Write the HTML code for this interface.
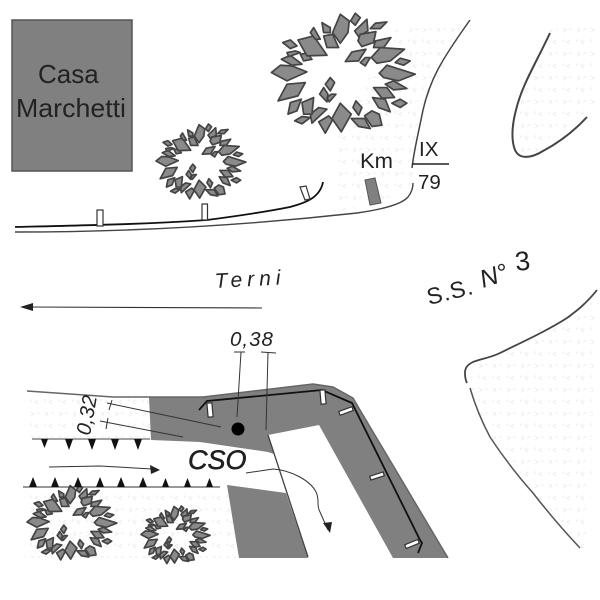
<!DOCTYPE html>
<html><head><meta charset="utf-8"><style>
html,body{margin:0;padding:0;background:#fff}
svg{display:block;filter:blur(.3px)}
text{font-family:"Liberation Sans",sans-serif;fill:#222}
.l{fill:#8a8a8a;stroke:#444;stroke-width:1.7;vector-effect:non-scaling-stroke;stroke-linejoin:round}
.p{fill:#fff;stroke:#333;stroke-width:1.2}
</style></head><body>
<svg width="600" height="600" viewBox="0 0 600 600" xmlns="http://www.w3.org/2000/svg">
<defs>
<pattern id="st" width="14" height="24" patternUnits="userSpaceOnUse">
<path d="M3 4l3 2-3 2M10 16l-3 2 3 2M12 5h-3M3 18v-3" fill="none" stroke="#ececec" stroke-width="1"/>
</pattern>
<g id="tree">
<polygon class="l" points="245,45 272,65 268,100 245,132 222,100"/>
<polygon class="l" points="290,42 305,55 290,78 276,65"/>
<polygon class="l" points="325,60 328,95 300,112 288,95"/>
<polygon class="l" points="385,68 365,88 335,88 350,72"/>
<polygon class="l" points="352,97 345,130 310,142 298,125 305,105"/>
<polygon class="l" points="397,115 375,145 345,145 350,125"/>
<polygon class="l" points="438,150 395,185 355,192 338,175 365,145"/>
<polygon class="l" points="455,185 435,198 410,190 425,177"/>
<polygon class="l" points="470,225 420,245 375,235 362,222 385,198"/>
<polygon class="l" points="445,268 405,272 380,255 405,245"/>
<polygon class="l" points="408,295 370,297 345,265 385,265"/>
<polygon class="l" points="445,312 425,325 400,312 425,300"/>
<polygon class="l" points="395,338 360,325 342,295 380,300"/>
<polygon class="l" points="322,150 300,185 260,187 280,158"/>
<polygon class="l" points="335,175 320,200 305,190 320,175"/>
<polygon class="l" points="228,250 215,275 200,255 215,235"/>
<polygon class="l" points="195,265 183,285 205,308 208,285"/>
<polygon class="l" points="232,285 212,308 205,295 218,285"/>
<polygon class="l" points="310,325 300,348 283,325 292,305"/>
<polygon class="l" points="370,378 340,382 318,350 340,335 362,345"/>
<polygon class="l" points="335,388 300,382 278,358 318,358"/>
<polygon class="l" points="278,345 248,398 220,358 245,312"/>
<polygon class="l" points="222,362 200,402 180,368 210,350"/>
<polygon class="l" points="205,330 160,372 155,345 180,325"/>
<polygon class="l" points="155,355 130,374 108,365 130,352"/>
<polygon class="l" points="165,295 160,345 135,345 130,310"/>
<polygon class="l" points="128,300 115,335 88,345 95,310"/>
<polygon class="l" points="140,250 118,290 58,305 85,255"/>
<polygon class="l" points="145,218 85,245 38,220 65,198 100,200"/>
<polygon class="l" points="130,195 100,198 68,180 95,168"/>
<polygon class="l" points="160,180 135,185 125,165 145,162"/>
<polygon class="l" points="125,160 90,172 85,160 110,155"/>
<polygon class="l" points="118,122 165,110 205,168 145,170"/>
<polygon class="l" points="115,140 95,148 72,130 95,122"/>
<polygon class="l" points="165,85 185,120 170,120 155,100"/>
<polygon class="l" points="190,70 215,85 215,100 195,100"/>
<polygon class="l" points="195,110 222,105 240,145 205,145"/>
</g>
</defs>

<!-- stipple -->
<path d="M335 140L395 30 465 25 428 100 412 190 340 212Z" fill="url(#st)"/>
<path d="M550 30L595 22 595 105 528 158 514 150 514 110Z" fill="url(#st)"/>
<path d="M595 295L500 353 473 364 470 390 490 437 533 493 580 548 590 548Z" fill="url(#st)"/>
<path d="M28 395L150 398 150 438 28 438Z" fill="url(#st)"/>
<path d="M25 490L228 490 240 558 25 558Z" fill="url(#st)"/>

<!-- Casa -->
<rect x="12" y="20" width="120" height="151" fill="#808080" stroke="#555" stroke-width="1.5"/>
<text x="38" y="83" font-size="26">Casa</text>
<text x="16" y="117" font-size="26" textLength="110" lengthAdjust="spacingAndGlyphs">Marchetti</text>

<!-- trees -->
<use href="#tree" transform="translate(258.7,-.7) scale(.333)"/>
<use href="#tree" transform="translate(148.1,115.3) scale(.208)"/>
<use href="#tree" transform="translate(19.1,476.3) scale(.208)"/>
<use href="#tree" transform="translate(134.9,499.3) scale(.16)"/>

<!-- top road -->
<path d="M15 232C120 232 240 226 357 213C385 209 402 204 408 197C412 192 413 188 413 183" fill="none" stroke="#444" stroke-width="1.4"/>
<path d="M412 168C414 150 417 140 423 110C430 80 440 62 470 20" fill="none" stroke="#444" stroke-width="1.5"/>
<path d="M15 227C100 225 150 224 207 220C245 215 270 211 290 207C305 203 320 198 323 182" fill="none" stroke="#111" stroke-width="1.8"/>
<rect class="p" x="97" y="210" width="6" height="16"/>
<rect class="p" x="202" y="204" width="5.5" height="16"/>
<polygon class="p" points="300,187 306,186 310,199 305,200"/>
<polygon points="365,180 375,178 381,203 370,205" fill="#808080" stroke="#555"/>
<text x="360" y="168" font-size="21" textLength="33" lengthAdjust="spacingAndGlyphs">Km</text>
<text x="419" y="156" font-size="20.5">IX</text>
<text x="418" y="189" font-size="20.5">79</text>
<path d="M412 164H449" stroke="#222" stroke-width="1.5"/>

<!-- right curve -->
<path d="M550 33C535 65 522 85 516 110C512 125 511 140 515 150C519 159 530 159 543 151C560 142 575 130 587 117" fill="none" stroke="#444" stroke-width="2"/>

<!-- lower right curve -->
<path d="M597 290C585 305 575 312 567 318C545 332 520 343 500 353C490 358 480 359 473 362C467 365 465 368 465 373C465 378 466 381 467 383" fill="none" stroke="#444" stroke-width="1.8"/>
<path d="M470 388C475 405 482 422 490 437C505 460 518 476 533 493C550 515 565 532 580 548" fill="none" stroke="#555" stroke-width="1.5"/>

<!-- labels -->
<text x="215" y="288" font-size="21" font-style="italic" letter-spacing="5" transform="rotate(-3 215 288)">Terni</text>
<text x="429" y="305" font-size="23" letter-spacing="1" transform="rotate(-14 429 305)">S.S.</text>
<text x="483" y="288" font-size="25" font-style="italic" transform="rotate(-18 483 288)">N°</text>
<text x="516" y="271" font-size="27" transform="rotate(-6 516 271)">3</text>
<path d="M262 308L30 307" stroke="#333" stroke-width="1.1"/>
<polygon points="20,307 33,303 33,311" fill="#222"/>

<!-- bottom road -->
<polygon points="149,397 203,397 313,384 333,387 353,398 360,410 448,558 393,558 319,425 268,435 274,454 268,452 200,442 151,440" fill="#808080"/>
<polygon points="227,485 286,493 308,558 239,558" fill="#808080"/>
<path d="M27 391L113 397 149 397 203 397 313,384 333,387 353,398 360,410 448,558" fill="none" stroke="#666" stroke-width="1.5"/>
<path d="M268 435L287 493 308 557" fill="none" stroke="#444" stroke-width="1.3"/>
<path d="M199 410L207 401 322 390 352 403 420 540 422 543 418 553" fill="none" stroke="#111" stroke-width="1.8"/>
<rect class="p" x="-2.5" y="-7" width="5" height="14" transform="translate(210,410) rotate(-5)"/>
<rect class="p" x="-2.5" y="-7" width="5" height="14" transform="translate(323,397) rotate(-5)"/>
<rect class="p" x="-7" y="-2" width="14" height="4" transform="translate(346,411) rotate(-20)"/>
<rect class="p" x="-7" y="-2" width="14" height="4" transform="translate(377,476) rotate(-18)"/>
<rect class="p" x="-7" y="-2" width="14" height="4" transform="translate(412,544) rotate(-22)"/>

<!-- dimensions -->
<text x="230" y="346" font-size="20.5" font-style="italic" letter-spacing="1">0,38</text>
<text transform="translate(90,436) rotate(-80)" font-size="20.5" font-style="italic">0,32</text>
<path d="M241 352L237 417M234 352H245M268 352L266 430M261 352L276 353" fill="none" stroke="#333" stroke-width="1"/>
<circle cx="238" cy="429" r="6.5" fill="#000"/>
<path d="M107 403L221 427M112 400L109 410M100 421L183 437M108 418L106 429" fill="none" stroke="#333" stroke-width="1"/>

<!-- teeth -->
<path d="M32 439H150" stroke="#444" stroke-width="1"/>
<path d="M41 439h7l-3.5 9zM65 439h8l-4 11zM88 439h8l-4 11zM111 439h8l-4 11zM134 439h8l-4 11z" fill="#111"/>
<path d="M23 487H220" stroke="#333" stroke-width="1"/>
<path d="M29 487h8l-4 -10zM51 487h8l-4 -10zM74 487h8l-4 -10zM96 487h8l-4 -10zM117 487h8l-4 -10zM139 487h8l-4 -10zM162 487h7l-3.5 -9zM184 487h7l-3.5 -9zM206 487h7l-3.5 -9z" fill="#111"/>
<path d="M49 467L100 466 152 469" fill="none" stroke="#333" stroke-width="1"/>
<polygon points="160,470 150,465 151,474" fill="#222"/>

<text x="188" y="469" font-size="27" font-style="italic" fill="#111" stroke="#111" stroke-width=".5">CSO</text>

<path d="M246 473L273 469C290 470 310 480 316 492C320 500 316 505 320 512L328 530" fill="none" stroke="#333" stroke-width="1"/>
<polygon points="323,523 332,522 330,533" fill="#222"/>
</svg>
</body></html>
